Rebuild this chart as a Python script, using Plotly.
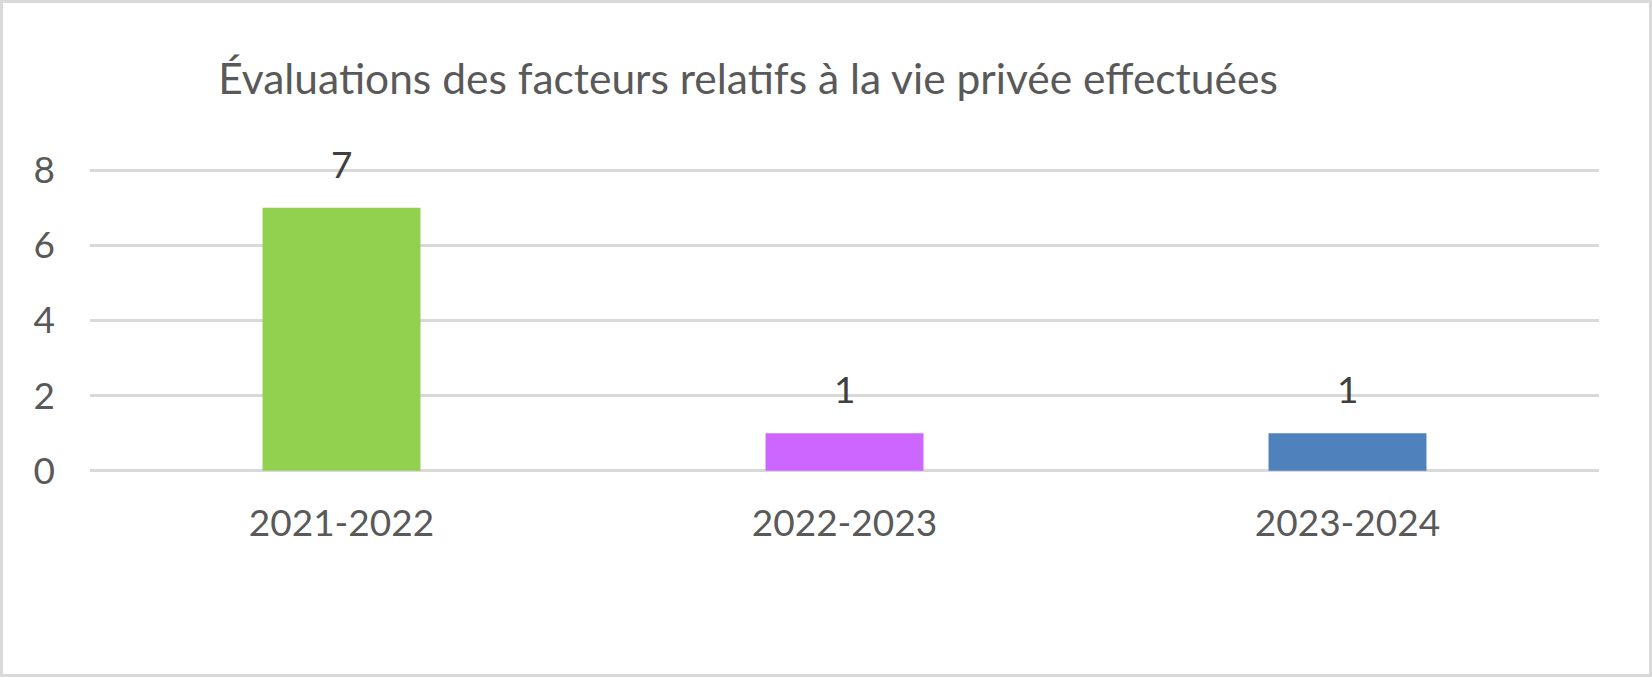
import plotly.graph_objects as go

categories = ["2021-2022", "2022-2023", "2023-2024"]
values = [7, 1, 1]
bar_colors = ["#92D050", "#CC66FF", "#4F81BD"]
y_ticks = [0, 2, 4, 6, 8]
title_text = "Évaluations des facteurs relatifs à la vie privée effectuées"

W, H = 1652, 677
L, R, T, B = 90, 53, 168, 204
FONT = "Lato"

fig = go.Figure()
fig.add_trace(go.Bar(
    x=categories, y=values,
    marker=dict(color=bar_colors, line=dict(width=0)),
    hoverinfo="skip",
))

for c, v in zip(categories, values):
    fig.add_annotation(x=c, y=v, text=str(v), showarrow=False,
                       yanchor="bottom", yshift=20,
                       font=dict(family=FONT, size=37, color="#404040"))

pw = W - L - R
ph = H - T - B
fig.add_shape(type="rect", xref="paper", yref="paper",
              x0=(1.5 - L) / pw, x1=(W - 1.5 - L) / pw,
              y0=-(B - 1.5) / ph, y1=1 + (T - 1.5) / ph,
              line=dict(color="#D9D9D9", width=3), fillcolor="rgba(0,0,0,0)",
              layer="below")

fig.update_layout(
    width=W, height=H,
    margin=dict(l=L, r=R, t=T, b=B, pad=0),
    paper_bgcolor="white", plot_bgcolor="white",
    bargap=0.686,
    showlegend=False,
    title=dict(text=title_text, x=748 / W, xanchor="center", xref="container",
               y=1 - 79 / H, yanchor="middle", yref="container",
               font=dict(family=FONT, size=42.5, color="#595959")),
    font=dict(family=FONT, color="#595959"),
)
fig.update_xaxes(showgrid=False, zeroline=False, showline=False, ticks="",
                 tickfont=dict(family=FONT, size=37, color="#595959"),
                 ticklabelstandoff=25)
fig.update_yaxes(range=[-0.06, 8.06], tickvals=y_ticks, showgrid=True,
                 gridcolor="#D9D9D9", gridwidth=2.5, zeroline=False,
                 showline=False, ticks="",
                 tickfont=dict(family=FONT, size=37, color="#595959"),
                 ticklabelstandoff=34)

fig.write_html("out.html", config={"displayModeBar": False},
               post_script="document.body.style.margin='0';document.body.style.overflow='hidden';")
